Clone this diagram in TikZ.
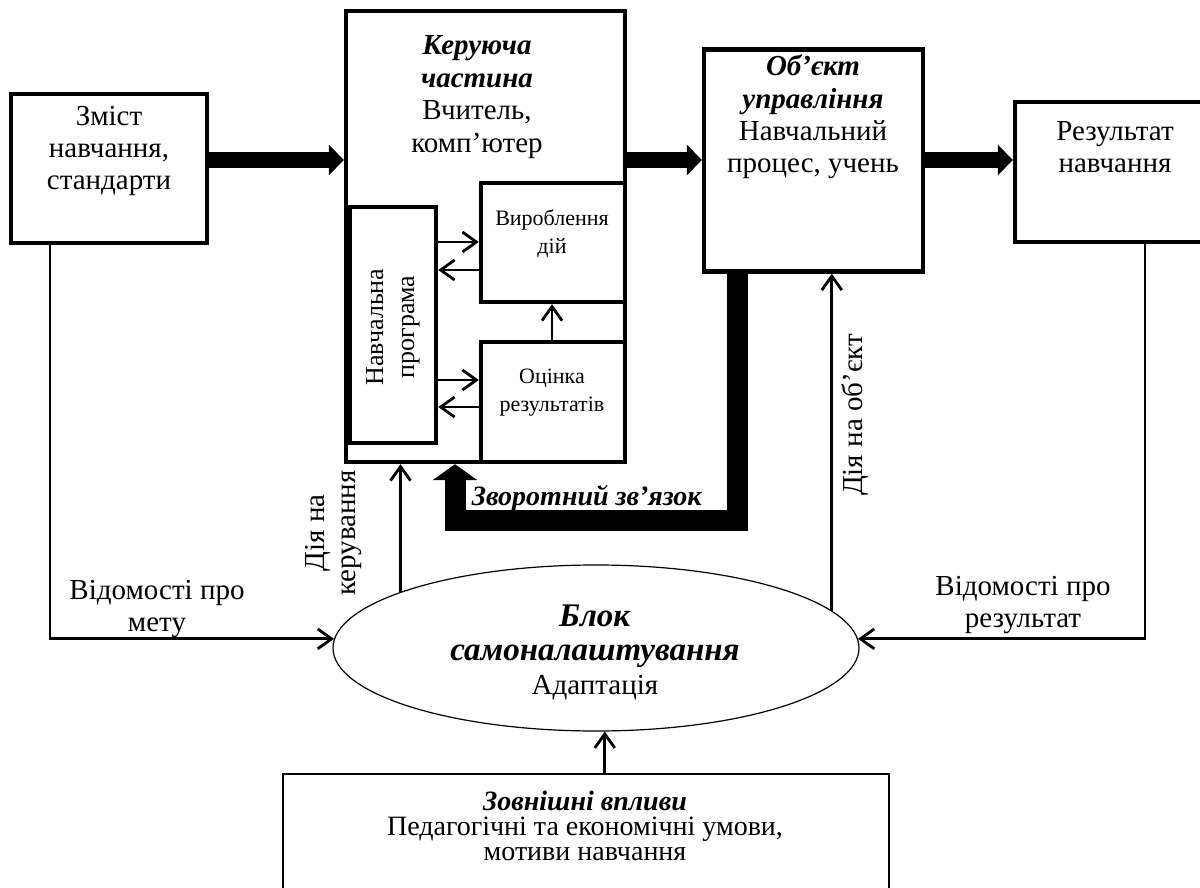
\documentclass[tikz,border=0pt]{standalone}
\usepackage{fontspec}
\setmainfont{Liberation Serif}
\usetikzlibrary{arrows.meta,shapes.geometric}

\tikzset{
  blok/.style={draw, line width=2.2pt, inner sep=0pt},
  tonkyi/.style={draw, line width=0.6pt, inner sep=0pt},
  napys/.style={align=center, inner sep=0pt, font=\fontsize{14.5}{16.2}\selectfont},
  malyi/.style={align=center, inner sep=0pt, font=\fontsize{11}{14}\selectfont},
  potik/.style={line width=8pt, -{Triangle[length=7.5pt,width=15pt]}},
  zvorot/.style={line width=10.5pt, line join=miter, -{Triangle[length=8pt,width=22pt]}},
  strilka/.style={line width=1.4pt, -{Straight Barb[length=7pt,width=10pt]}},
}
\newcommand{\zhyr}[1]{\textbf{\textit{#1}}}
\newcommand{\tisnyi}{\fontsize{14}{12.6}\selectfont\lineskiplimit-20pt\relax}

\begin{document}
\begin{tikzpicture}[x=0.5pt, y=-0.5pt]
  \useasboundingbox (0,0) rectangle (1200,888);

  % blocks
  \node[blok, minimum width=98pt, minimum height=74.5pt] (zmist) at (109,168.5) {};
  \node[blok, minimum width=139.5pt, minimum height=225.5pt] (ker) at (485.5,236.5) {};
  \node[blok, minimum width=43pt, minimum height=118pt] (prog) at (393,325) {};
  \node[blok, minimum width=72pt, minimum height=59.5pt] (vyr) at (553,242.5) {};
  \node[blok, minimum width=72pt, minimum height=60pt] (ocin) at (553,402) {};
  \node[blok, minimum width=109.5pt, minimum height=111pt] (obj) at (813.5,160.5) {};
  \node[blok, minimum width=100pt, minimum height=70pt] (rez) at (1115,172) {};
  \node[tonkyi, ellipse, minimum width=263pt, minimum height=83pt] (bloc) at (596,648) {};
  \node[tonkyi, minimum width=303pt, minimum height=66pt] (zovn) at (586,840) {};

  % texts
  \node[napys] (t-zmist) at (109,151) {Зміст\\ навчання,\\ стандарти};
  \node[napys] (t-ker) at (477,97) {\zhyr{Керуюча}\\ \zhyr{частина}\\ Вчитель,\\ комп’ютер};
  \node[napys] (t-obj) at (813,117) {\zhyr{Об’єкт}\\ \zhyr{управління}\\ Навчальний\\ процес, учень};
  \node[napys] (t-rez) at (1115,147) {Результат\\ навчання};
  \node[malyi] (t-vyr) at (552,234) {Вироблення\\ дій};
  \node[malyi] (t-ocin) at (552,393) {Оцінка\\ результатів};
  \node[malyi, rotate=90, font=\fontsize{13}{15.5}\selectfont] (t-prog) at (393,327) {Навчальна\\ програма};
  \node[napys, rotate=90, font=\fontsize{14.5}{15.5}\selectfont] (t-dia1) at (334,533) {Дія на\\ керування};
  \node[napys, rotate=90] (t-dia2) at (855,415) {Дія на об’єкт};
  \node[napys] (t-meta) at (157,609) {Відомості про\\ мету};
  \node[napys] (t-rezv) at (1023,605) {Відомості про\\ результат};
  \node[napys, font=\fontsize{14.5}{17}\selectfont] (t-bloc) at (595,652)
    {{\fontsize{16.5}{17}\selectfont\zhyr{Блок}}\\ {\fontsize{16.5}{17}\selectfont\zhyr{самоналаштування}}\\ Адаптація};
  \node[napys, font=\tisnyi] (t-zovn) at (585,826)
    {\zhyr{Зовнішні впливи}\\ Педагогічні та економічні умови,\\ мотиви навчання};

  % main flow
  \draw[potik] (zmist.east |- 0,160) -- (ker.west |- 0,160);
  \draw[potik] (ker.east |- 0,160) -- (obj.west |- 0,160);
  \draw[potik] (obj.east |- 0,160) -- (rez.west |- 0,160);

  % inside the control part
  \draw[strilka] (prog.east |- 0,242) -- (vyr.west |- 0,242);
  \draw[strilka] (vyr.west |- 0,270) -- (prog.east |- 0,270);
  \draw[strilka] (prog.east |- 0,380) -- (ocin.west |- 0,380);
  \draw[strilka] (ocin.west |- 0,407) -- (prog.east |- 0,407);
  \draw[strilka] (ocin.north -| 552,0) -- (vyr.south -| 552,0);

  % feedback
  \coordinate (zvk) at (596,520);
  \draw[zvorot] (obj.south -| 737,0) |- (zvk) -| (ker.south -| 455,0);
  \node[anchor=base, inner sep=0pt, font=\fontsize{14}{16}\selectfont] (t-zvk) at (587,505) {\zhyr{Зворотний зв’язок}};

  % adaptation
  \draw[strilka] (bloc.164.8) -- (bloc.164.8 |- ker.south);
  \draw[strilka] (bloc.9.5) -- (bloc.9.5 |- obj.south);
  \draw[strilka] (zmist.south -| 50,0) |- (bloc.178);
  \draw[strilka] (rez.south -| 1145,0) |- (bloc.2);
  \draw[strilka] (bloc.-84 |- zovn.north) -- (bloc.-84);
\end{tikzpicture}
\end{document}
